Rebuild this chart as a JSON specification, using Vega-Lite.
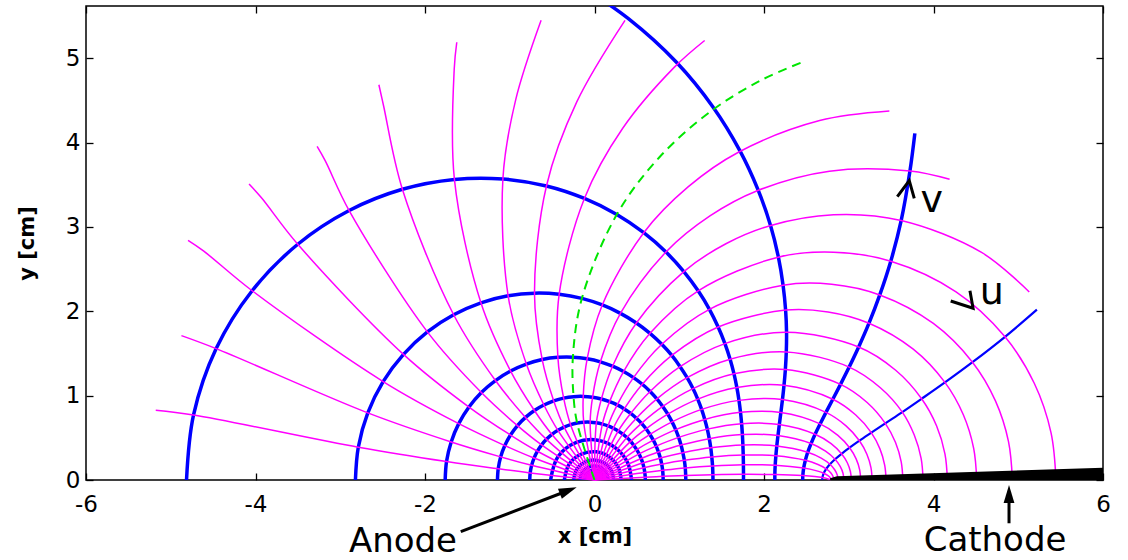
{
  "$schema": "https://vega.github.io/schema/vega-lite/v6.json",
  "width": 1017,
  "height": 474,
  "autosize": {"type": "none"},
  "padding": {"left": 86, "top": 6, "right": 25, "bottom": 80},
  "background": "white",
  "config": {
    "view": {"stroke": "black", "strokeWidth": 1.5},
    "font": "DejaVu Sans",
    "axis": {"labelFont": "DejaVu Sans", "titleFont": "DejaVu Sans", "grid": false, "domain": false, "labelColor": "black", "titleColor": "black", "tickColor": "black", "tickWidth": 1.3}
  },
  "datasets": {
    "eq": [
      {"n":1,"x":2.687,"y":0},{"n":1,"x":2.689,"y":0.029},{"n":1,"x":2.705,"y":0.080},{"n":1,"x":2.734,"y":0.132},{"n":1,"x":2.778,"y":0.186},{"n":1,"x":2.838,"y":0.246},{"n":1,"x":2.915,"y":0.311},{"n":1,"x":3.010,"y":0.383},{"n":1,"x":3.126,"y":0.466},{"n":1,"x":3.266,"y":0.561},{"n":1,"x":3.431,"y":0.672},{"n":1,"x":3.632,"y":0.805},{"n":1,"x":3.860,"y":0.963},{"n":1,"x":4.135,"y":1.157},{"n":1,"x":4.460,"y":1.397},{"n":1,"x":4.844,"y":1.698},{"n":1,"x":5.220,"y":2.020},
      {"n":2,"x":2.457,"y":0},{"n":2,"x":2.458,"y":0.052},{"n":2,"x":2.468,"y":0.141},{"n":2,"x":2.488,"y":0.233},{"n":2,"x":2.516,"y":0.329},{"n":2,"x":2.555,"y":0.432},{"n":2,"x":2.603,"y":0.543},{"n":2,"x":2.662,"y":0.665},{"n":2,"x":2.731,"y":0.802},{"n":2,"x":2.812,"y":0.957},{"n":2,"x":2.903,"y":1.134},{"n":2,"x":3.005,"y":1.339},{"n":2,"x":3.117,"y":1.577},{"n":2,"x":3.239,"y":1.859},{"n":2,"x":3.366,"y":2.194},{"n":2,"x":3.496,"y":2.594},{"n":2,"x":3.619,"y":3.077},{"n":2,"x":3.722,"y":3.663},{"n":2,"x":3.780,"y":4.110},
      {"n":3,"x":2.128,"y":0},{"n":3,"x":2.128,"y":0.064},{"n":3,"x":2.132,"y":0.175},{"n":3,"x":2.140,"y":0.287},{"n":3,"x":2.151,"y":0.404},{"n":3,"x":2.165,"y":0.527},{"n":3,"x":2.181,"y":0.659},{"n":3,"x":2.199,"y":0.800},{"n":3,"x":2.218,"y":0.954},{"n":3,"x":2.236,"y":1.123},{"n":3,"x":2.252,"y":1.310},{"n":3,"x":2.263,"y":1.519},{"n":3,"x":2.266,"y":1.752},{"n":3,"x":2.255,"y":2.015},{"n":3,"x":2.225,"y":2.310},{"n":3,"x":2.170,"y":2.642},{"n":3,"x":2.078,"y":3.015},{"n":3,"x":1.930,"y":3.440},{"n":3,"x":1.715,"y":3.905},{"n":3,"x":1.400,"y":4.420},{"n":3,"x":0.970,"y":4.950},{"n":3,"x":0.400,"y":5.470},{"n":3,"x":-0.300,"y":5.950},
      {"n":4,"x":1.758,"y":0},{"n":4,"x":1.758,"y":0.067},{"n":4,"x":1.757,"y":0.181},{"n":4,"x":1.755,"y":0.296},{"n":4,"x":1.751,"y":0.415},{"n":4,"x":1.745,"y":0.538},{"n":4,"x":1.736,"y":0.667},{"n":4,"x":1.723,"y":0.802},{"n":4,"x":1.705,"y":0.944},{"n":4,"x":1.680,"y":1.096},{"n":4,"x":1.646,"y":1.259},{"n":4,"x":1.600,"y":1.432},{"n":4,"x":1.539,"y":1.617},{"n":4,"x":1.459,"y":1.814},{"n":4,"x":1.356,"y":2.024},{"n":4,"x":1.223,"y":2.243},{"n":4,"x":1.054,"y":2.471},{"n":4,"x":0.843,"y":2.703},{"n":4,"x":0.581,"y":2.932},{"n":4,"x":0.263,"y":3.148},{"n":4,"x":-0.119,"y":3.338},{"n":4,"x":-0.567,"y":3.486},{"n":4,"x":-1.081,"y":3.569},{"n":4,"x":-1.653,"y":3.564},{"n":4,"x":-2.267,"y":3.447},{"n":4,"x":-2.895,"y":3.195},{"n":4,"x":-3.501,"y":2.795},{"n":4,"x":-4.040,"y":2.244},{"n":4,"x":-4.464,"y":1.558},{"n":4,"x":-4.731,"y":0.771},{"n":4,"x":-4.814,"y":0},
      {"n":5,"x":1.398,"y":0},{"n":5,"x":1.397,"y":0.062},{"n":5,"x":1.393,"y":0.167},{"n":5,"x":1.384,"y":0.273},{"n":5,"x":1.372,"y":0.381},{"n":5,"x":1.354,"y":0.490},{"n":5,"x":1.331,"y":0.603},{"n":5,"x":1.301,"y":0.718},{"n":5,"x":1.264,"y":0.837},{"n":5,"x":1.218,"y":0.959},{"n":5,"x":1.162,"y":1.084},{"n":5,"x":1.093,"y":1.213},{"n":5,"x":1.010,"y":1.344},{"n":5,"x":0.912,"y":1.477},{"n":5,"x":0.794,"y":1.609},{"n":5,"x":0.655,"y":1.739},{"n":5,"x":0.494,"y":1.862},{"n":5,"x":0.306,"y":1.976},{"n":5,"x":0.092,"y":2.075},{"n":5,"x":-0.149,"y":2.153},{"n":5,"x":-0.417,"y":2.202},{"n":5,"x":-0.708,"y":2.215},{"n":5,"x":-1.019,"y":2.184},{"n":5,"x":-1.340,"y":2.101},{"n":5,"x":-1.662,"y":1.959},{"n":5,"x":-1.972,"y":1.756},{"n":5,"x":-2.254,"y":1.490},{"n":5,"x":-2.494,"y":1.167},{"n":5,"x":-2.675,"y":0.796},{"n":5,"x":-2.787,"y":0.389},{"n":5,"x":-2.821,"y":0},
      {"n":6,"x":1.077,"y":0},{"n":6,"x":1.076,"y":0.053},{"n":6,"x":1.071,"y":0.143},{"n":6,"x":1.060,"y":0.233},{"n":6,"x":1.043,"y":0.323},{"n":6,"x":1.021,"y":0.414},{"n":6,"x":0.993,"y":0.505},{"n":6,"x":0.958,"y":0.597},{"n":6,"x":0.915,"y":0.689},{"n":6,"x":0.865,"y":0.781},{"n":6,"x":0.805,"y":0.872},{"n":6,"x":0.736,"y":0.962},{"n":6,"x":0.656,"y":1.050},{"n":6,"x":0.564,"y":1.135},{"n":6,"x":0.460,"y":1.214},{"n":6,"x":0.343,"y":1.286},{"n":6,"x":0.213,"y":1.349},{"n":6,"x":0.069,"y":1.401},{"n":6,"x":-0.087,"y":1.437},{"n":6,"x":-0.255,"y":1.456},{"n":6,"x":-0.432,"y":1.454},{"n":6,"x":-0.617,"y":1.428},{"n":6,"x":-0.804,"y":1.374},{"n":6,"x":-0.990,"y":1.292},{"n":6,"x":-1.169,"y":1.179},{"n":6,"x":-1.335,"y":1.037},{"n":6,"x":-1.481,"y":0.865},{"n":6,"x":-1.602,"y":0.668},{"n":6,"x":-1.691,"y":0.451},{"n":6,"x":-1.746,"y":0.219},{"n":6,"x":-1.762,"y":0},
      {"n":7,"x":0.810,"y":0},{"n":7,"x":0.809,"y":0.043},{"n":7,"x":0.804,"y":0.115},{"n":7,"x":0.793,"y":0.188},{"n":7,"x":0.777,"y":0.260},{"n":7,"x":0.755,"y":0.331},{"n":7,"x":0.728,"y":0.402},{"n":7,"x":0.694,"y":0.472},{"n":7,"x":0.654,"y":0.540},{"n":7,"x":0.608,"y":0.607},{"n":7,"x":0.555,"y":0.672},{"n":7,"x":0.494,"y":0.733},{"n":7,"x":0.427,"y":0.790},{"n":7,"x":0.351,"y":0.843},{"n":7,"x":0.268,"y":0.890},{"n":7,"x":0.178,"y":0.929},{"n":7,"x":0.081,"y":0.960},{"n":7,"x":-0.023,"y":0.981},{"n":7,"x":-0.133,"y":0.991},{"n":7,"x":-0.247,"y":0.988},{"n":7,"x":-0.364,"y":0.971},{"n":7,"x":-0.481,"y":0.938},{"n":7,"x":-0.597,"y":0.889},{"n":7,"x":-0.709,"y":0.824},{"n":7,"x":-0.814,"y":0.742},{"n":7,"x":-0.909,"y":0.645},{"n":7,"x":-0.991,"y":0.533},{"n":7,"x":-1.058,"y":0.408},{"n":7,"x":-1.107,"y":0.274},{"n":7,"x":-1.136,"y":0.133},{"n":7,"x":-1.145,"y":0},
      {"n":8,"x":0.599,"y":0},{"n":8,"x":0.599,"y":0.033},{"n":8,"x":0.593,"y":0.090},{"n":8,"x":0.583,"y":0.146},{"n":8,"x":0.569,"y":0.201},{"n":8,"x":0.550,"y":0.255},{"n":8,"x":0.526,"y":0.309},{"n":8,"x":0.498,"y":0.360},{"n":8,"x":0.464,"y":0.410},{"n":8,"x":0.426,"y":0.458},{"n":8,"x":0.382,"y":0.503},{"n":8,"x":0.334,"y":0.544},{"n":8,"x":0.280,"y":0.581},{"n":8,"x":0.222,"y":0.614},{"n":8,"x":0.160,"y":0.642},{"n":8,"x":0.093,"y":0.663},{"n":8,"x":0.022,"y":0.678},{"n":8,"x":-0.051,"y":0.686},{"n":8,"x":-0.127,"y":0.685},{"n":8,"x":-0.205,"y":0.675},{"n":8,"x":-0.282,"y":0.656},{"n":8,"x":-0.358,"y":0.627},{"n":8,"x":-0.432,"y":0.589},{"n":8,"x":-0.502,"y":0.540},{"n":8,"x":-0.567,"y":0.482},{"n":8,"x":-0.624,"y":0.416},{"n":8,"x":-0.673,"y":0.341},{"n":8,"x":-0.713,"y":0.260},{"n":8,"x":-0.742,"y":0.174},{"n":8,"x":-0.759,"y":0.084},{"n":8,"x":-0.764,"y":0},
      {"n":9,"x":0.437,"y":0},{"n":9,"x":0.391,"y":0.205},{"n":9,"x":0.255,"y":0.376},{"n":9,"x":0.041,"y":0.472},{"n":9,"x":-0.214,"y":0.446},{"n":9,"x":-0.432,"y":0.275},{"n":9,"x":-0.518,"y":0},
      {"n":10,"x":0.315,"y":0},{"n":10,"x":0.280,"y":0.151},{"n":10,"x":0.177,"y":0.272},{"n":10,"x":0.020,"y":0.334},{"n":10,"x":-0.156,"y":0.307},{"n":10,"x":-0.300,"y":0.186},{"n":10,"x":-0.356,"y":0},
      {"n":11,"x":0.226,"y":0},{"n":11,"x":0.199,"y":0.110},{"n":11,"x":0.123,"y":0.196},{"n":11,"x":0.010,"y":0.235},{"n":11,"x":-0.113,"y":0.213},{"n":11,"x":-0.209,"y":0.127},{"n":11,"x":-0.246,"y":0},
      {"n":12,"x":0.161,"y":0},{"n":12,"x":0.141,"y":0.079},{"n":12,"x":0.086,"y":0.140},{"n":12,"x":0.005,"y":0.166},{"n":12,"x":-0.081,"y":0.148},{"n":12,"x":-0.146,"y":0.088},{"n":12,"x":-0.171,"y":0},
      {"n":13,"x":0.115,"y":0},{"n":13,"x":0.100,"y":0.056},{"n":13,"x":0.060,"y":0.099},{"n":13,"x":0.003,"y":0.117},{"n":13,"x":-0.057,"y":0.104},{"n":13,"x":-0.103,"y":0.061},{"n":13,"x":-0.120,"y":0},
      {"n":14,"x":0.081,"y":0},{"n":14,"x":0.071,"y":0.041},{"n":14,"x":0.042,"y":0.071},{"n":14,"x":0.001,"y":0.083},{"n":14,"x":-0.041,"y":0.072},{"n":14,"x":-0.072,"y":0.042},{"n":14,"x":-0.084,"y":0}
    ],
    "fl": [
      {"j":0,"x":0,"y":0},{"j":0,"x":0.599,"y":0.033},{"j":0,"x":0.809,"y":0.043},{"j":0,"x":1.076,"y":0.053},{"j":0,"x":1.397,"y":0.062},{"j":0,"x":1.758,"y":0.067},{"j":0,"x":2.128,"y":0.064},{"j":0,"x":2.458,"y":0.052},{"j":0,"x":2.599,"y":0.041},{"j":0,"x":2.689,"y":0.029},{"j":0,"x":2.738,"y":0.019},{"j":0,"x":2.765,"y":0.009},{"j":0,"x":2.773,"y":0},
      {"j":1,"x":0,"y":0},{"j":1,"x":0.593,"y":0.090},{"j":1,"x":0.804,"y":0.115},{"j":1,"x":1.071,"y":0.143},{"j":1,"x":1.393,"y":0.167},{"j":1,"x":1.757,"y":0.181},{"j":1,"x":2.132,"y":0.175},{"j":1,"x":2.468,"y":0.141},{"j":1,"x":2.612,"y":0.111},{"j":1,"x":2.705,"y":0.080},{"j":1,"x":2.755,"y":0.052},{"j":1,"x":2.782,"y":0.025},{"j":1,"x":2.790,"y":0},
      {"j":2,"x":0,"y":0},{"j":2,"x":0.583,"y":0.146},{"j":2,"x":0.793,"y":0.188},{"j":2,"x":1.060,"y":0.233},{"j":2,"x":1.384,"y":0.273},{"j":2,"x":1.755,"y":0.296},{"j":2,"x":2.140,"y":0.287},{"j":2,"x":2.488,"y":0.233},{"j":2,"x":2.637,"y":0.183},{"j":2,"x":2.734,"y":0.132},{"j":2,"x":2.787,"y":0.086},{"j":2,"x":2.815,"y":0.041},{"j":2,"x":2.823,"y":0},
      {"j":3,"x":0,"y":0},{"j":3,"x":0.569,"y":0.201},{"j":3,"x":0.777,"y":0.260},{"j":3,"x":1.043,"y":0.323},{"j":3,"x":1.372,"y":0.381},{"j":3,"x":1.751,"y":0.415},{"j":3,"x":2.151,"y":0.404},{"j":3,"x":2.516,"y":0.329},{"j":3,"x":2.675,"y":0.259},{"j":3,"x":2.778,"y":0.186},{"j":3,"x":2.834,"y":0.122},{"j":3,"x":2.865,"y":0.058},{"j":3,"x":2.874,"y":0},
      {"j":4,"x":0,"y":0},{"j":4,"x":0.550,"y":0.255},{"j":4,"x":0.755,"y":0.331},{"j":4,"x":1.021,"y":0.414},{"j":4,"x":1.354,"y":0.490},{"j":4,"x":1.745,"y":0.538},{"j":4,"x":2.165,"y":0.527},{"j":4,"x":2.555,"y":0.432},{"j":4,"x":2.726,"y":0.341},{"j":4,"x":2.838,"y":0.246},{"j":4,"x":2.899,"y":0.161},{"j":4,"x":2.933,"y":0.077},{"j":4,"x":2.942,"y":0},
      {"j":5,"x":0,"y":0},{"j":5,"x":0.526,"y":0.309},{"j":5,"x":0.728,"y":0.402},{"j":5,"x":0.993,"y":0.505},{"j":5,"x":1.331,"y":0.603},{"j":5,"x":1.736,"y":0.667},{"j":5,"x":2.181,"y":0.659},{"j":5,"x":2.603,"y":0.543},{"j":5,"x":2.792,"y":0.431},{"j":5,"x":2.915,"y":0.311},{"j":5,"x":2.983,"y":0.204},{"j":5,"x":3.020,"y":0.098},{"j":5,"x":3.031,"y":0},
      {"j":6,"x":0,"y":0},{"j":6,"x":0.498,"y":0.360},{"j":6,"x":0.694,"y":0.472},{"j":6,"x":0.958,"y":0.597},{"j":6,"x":1.301,"y":0.718},{"j":6,"x":1.723,"y":0.802},{"j":6,"x":2.199,"y":0.800},{"j":6,"x":2.662,"y":0.665},{"j":6,"x":2.872,"y":0.530},{"j":6,"x":3.010,"y":0.383},{"j":6,"x":3.087,"y":0.251},{"j":6,"x":3.129,"y":0.121},{"j":6,"x":3.141,"y":0},
      {"j":7,"x":0,"y":0},{"j":7,"x":0.464,"y":0.410},{"j":7,"x":0.654,"y":0.540},{"j":7,"x":0.915,"y":0.689},{"j":7,"x":1.264,"y":0.837},{"j":7,"x":1.705,"y":0.944},{"j":7,"x":2.218,"y":0.954},{"j":7,"x":2.731,"y":0.802},{"j":7,"x":2.968,"y":0.642},{"j":7,"x":3.126,"y":0.466},{"j":7,"x":3.214,"y":0.306},{"j":7,"x":3.262,"y":0.147},{"j":7,"x":3.276,"y":0},
      {"j":8,"x":0,"y":0},{"j":8,"x":0.426,"y":0.458},{"j":8,"x":0.608,"y":0.607},{"j":8,"x":0.865,"y":0.781},{"j":8,"x":1.218,"y":0.959},{"j":8,"x":1.680,"y":1.096},{"j":8,"x":2.236,"y":1.123},{"j":8,"x":2.812,"y":0.957},{"j":8,"x":3.083,"y":0.770},{"j":8,"x":3.266,"y":0.561},{"j":8,"x":3.368,"y":0.369},{"j":8,"x":3.424,"y":0.177},{"j":8,"x":3.441,"y":0},
      {"j":9,"x":0,"y":0},{"j":9,"x":0.382,"y":0.503},{"j":9,"x":0.555,"y":0.672},{"j":9,"x":0.805,"y":0.872},{"j":9,"x":1.162,"y":1.084},{"j":9,"x":1.646,"y":1.259},{"j":9,"x":2.252,"y":1.310},{"j":9,"x":2.903,"y":1.134},{"j":9,"x":3.217,"y":0.919},{"j":9,"x":3.431,"y":0.672},{"j":9,"x":3.552,"y":0.444},{"j":9,"x":3.619,"y":0.214},{"j":9,"x":3.639,"y":0},
      {"j":10,"x":0,"y":0},{"j":10,"x":0.334,"y":0.544},{"j":10,"x":0.494,"y":0.733},{"j":10,"x":0.736,"y":0.962},{"j":10,"x":1.093,"y":1.213},{"j":10,"x":1.600,"y":1.432},{"j":10,"x":2.263,"y":1.519},{"j":10,"x":3.005,"y":1.339},{"j":10,"x":3.373,"y":1.094},{"j":10,"x":3.632,"y":0.805},{"j":10,"x":3.773,"y":0.533},{"j":10,"x":3.854,"y":0.257},{"j":10,"x":3.877,"y":0},
      {"j":11,"x":0,"y":0},{"j":11,"x":0.280,"y":0.581},{"j":11,"x":0.427,"y":0.790},{"j":11,"x":0.656,"y":1.050},{"j":11,"x":1.010,"y":1.344},{"j":11,"x":1.539,"y":1.617},{"j":11,"x":2.266,"y":1.752},{"j":11,"x":3.117,"y":1.577},{"j":11,"x":3.554,"y":1.301},{"j":11,"x":3.860,"y":0.963},{"j":11,"x":4.037,"y":0.640},{"j":11,"x":4.135,"y":0.309},{"j":11,"x":4.164,"y":0},
      {"j":12,"x":0,"y":0},{"j":12,"x":0.222,"y":0.614},{"j":12,"x":0.351,"y":0.843},{"j":12,"x":0.564,"y":1.135},{"j":12,"x":0.912,"y":1.477},{"j":12,"x":1.459,"y":1.814},{"j":12,"x":2.255,"y":2.015},{"j":12,"x":2.756,"y":1.993},{"j":12,"x":3.239,"y":1.859},{"j":12,"x":3.761,"y":1.551},{"j":12,"x":4.135,"y":1.157},{"j":12,"x":4.352,"y":0.773},{"j":12,"x":4.474,"y":0.374},{"j":12,"x":4.510,"y":0},
      {"j":13,"x":0,"y":0},{"j":13,"x":0.160,"y":0.642},{"j":13,"x":0.268,"y":0.890},{"j":13,"x":0.460,"y":1.214},{"j":13,"x":0.794,"y":1.609},{"j":13,"x":1.356,"y":2.024},{"j":13,"x":2.225,"y":2.310},{"j":13,"x":2.798,"y":2.321},{"j":13,"x":3.366,"y":2.194},{"j":13,"x":3.998,"y":1.856},{"j":13,"x":4.460,"y":1.397},{"j":13,"x":4.731,"y":0.938},{"j":13,"x":4.885,"y":0.455},{"j":13,"x":4.931,"y":0},
      {"j":14,"x":0,"y":0},{"j":14,"x":0.093,"y":0.663},{"j":14,"x":0.178,"y":0.929},{"j":14,"x":0.343,"y":1.286},{"j":14,"x":0.655,"y":1.739},{"j":14,"x":1.223,"y":2.243},{"j":14,"x":2.167,"y":2.642},{"j":14,"x":2.823,"y":2.701},{"j":14,"x":3.496,"y":2.594},{"j":14,"x":4.266,"y":2.231},{"j":14,"x":4.844,"y":1.698},{"j":14,"x":5.189,"y":1.147},{"j":14,"x":5.387,"y":0.559},{"j":14,"x":5.445,"y":0},
      {"j":15,"x":0,"y":0},{"j":15,"x":0.022,"y":0.678},{"j":15,"x":0.081,"y":0.960},{"j":15,"x":0.213,"y":1.349},{"j":15,"x":0.494,"y":1.862},{"j":15,"x":1.054,"y":2.471},{"j":15,"x":1.556,"y":2.804},{"j":15,"x":2.070,"y":3.015},{"j":15,"x":2.820,"y":3.145},{"j":15,"x":3.619,"y":3.077},{"j":15,"x":4.567,"y":2.698},{"j":15,"x":5.130,"y":2.230},
      {"j":16,"x":0,"y":0},{"j":16,"x":-0.051,"y":0.686},{"j":16,"x":-0.023,"y":0.981},{"j":16,"x":0.069,"y":1.401},{"j":16,"x":0.306,"y":1.976},{"j":16,"x":0.843,"y":2.703},{"j":16,"x":1.362,"y":3.131},{"j":16,"x":1.920,"y":3.430},{"j":16,"x":2.772,"y":3.662},{"j":16,"x":3.722,"y":3.663},{"j":16,"x":4.190,"y":3.565},
      {"j":17,"x":0,"y":0},{"j":17,"x":-0.127,"y":0.685},{"j":17,"x":-0.133,"y":0.991},{"j":17,"x":-0.087,"y":1.437},{"j":17,"x":0.092,"y":2.075},{"j":17,"x":0.581,"y":2.932},{"j":17,"x":1.104,"y":3.475},{"j":17,"x":1.698,"y":3.886},{"j":17,"x":2.657,"y":4.262},{"j":17,"x":3.479,"y":4.375},
      {"j":18,"x":0,"y":0},{"j":18,"x":-0.205,"y":0.675},{"j":18,"x":-0.247,"y":0.988},{"j":18,"x":-0.255,"y":1.456},{"j":18,"x":-0.149,"y":2.153},{"j":18,"x":0.263,"y":3.148},{"j":18,"x":0.766,"y":3.827},{"j":18,"x":1.381,"y":4.378},{"j":18,"x":1.964,"y":4.739},{"j":18,"x":2.475,"y":4.964},
      {"j":19,"x":0,"y":0},{"j":19,"x":-0.282,"y":0.656},{"j":19,"x":-0.364,"y":0.971},{"j":19,"x":-0.432,"y":1.454},{"j":19,"x":-0.417,"y":2.202},{"j":19,"x":-0.119,"y":3.338},{"j":19,"x":0.333,"y":4.170},{"j":19,"x":0.943,"y":4.895},{"j":19,"x":1.300,"y":5.211},
      {"j":20,"x":0,"y":0},{"j":20,"x":-0.358,"y":0.627},{"j":20,"x":-0.481,"y":0.938},{"j":20,"x":-0.617,"y":1.428},{"j":20,"x":-0.708,"y":2.215},{"j":20,"x":-0.567,"y":3.486},{"j":20,"x":-0.209,"y":4.483},{"j":20,"x":0.360,"y":5.450},
      {"j":21,"x":0,"y":0},{"j":21,"x":-0.432,"y":0.589},{"j":21,"x":-0.597,"y":0.889},{"j":21,"x":-0.804,"y":1.374},{"j":21,"x":-1.019,"y":2.184},{"j":21,"x":-1.081,"y":3.569},{"j":21,"x":-0.930,"y":4.507},{"j":21,"x":-0.630,"y":5.450},
      {"j":22,"x":0,"y":0},{"j":22,"x":-0.502,"y":0.540},{"j":22,"x":-0.709,"y":0.824},{"j":22,"x":-0.990,"y":1.292},{"j":22,"x":-1.340,"y":2.101},{"j":22,"x":-1.653,"y":3.564},{"j":22,"x":-1.655,"y":4.876},{"j":22,"x":-1.625,"y":5.190},
      {"j":23,"x":0,"y":0},{"j":23,"x":-0.567,"y":0.482},{"j":23,"x":-0.814,"y":0.742},{"j":23,"x":-1.169,"y":1.179},{"j":23,"x":-1.662,"y":1.959},{"j":23,"x":-2.267,"y":3.447},{"j":23,"x":-2.489,"y":4.437},{"j":23,"x":-2.544,"y":4.686},
      {"j":24,"x":0,"y":0},{"j":24,"x":-0.624,"y":0.416},{"j":24,"x":-0.909,"y":0.645},{"j":24,"x":-1.335,"y":1.037},{"j":24,"x":-1.972,"y":1.756},{"j":24,"x":-2.895,"y":3.195},{"j":24,"x":-3.178,"y":3.786},{"j":24,"x":-3.273,"y":3.955},
      {"j":25,"x":0,"y":0},{"j":25,"x":-0.673,"y":0.341},{"j":25,"x":-0.991,"y":0.533},{"j":25,"x":-1.481,"y":0.865},{"j":25,"x":-2.254,"y":1.490},{"j":25,"x":-3.501,"y":2.795},{"j":25,"x":-3.932,"y":3.349},{"j":25,"x":-4.076,"y":3.509},
      {"j":26,"x":0,"y":0},{"j":26,"x":-0.713,"y":0.260},{"j":26,"x":-1.058,"y":0.408},{"j":26,"x":-1.602,"y":0.668},{"j":26,"x":-2.494,"y":1.167},{"j":26,"x":-4.040,"y":2.244},{"j":26,"x":-4.614,"y":2.716},{"j":26,"x":-4.796,"y":2.841},
      {"j":27,"x":0,"y":0},{"j":27,"x":-0.742,"y":0.174},{"j":27,"x":-1.107,"y":0.274},{"j":27,"x":-1.691,"y":0.451},{"j":27,"x":-2.675,"y":0.796},{"j":27,"x":-4.464,"y":1.558},{"j":27,"x":-4.874,"y":1.712},
      {"j":28,"x":0,"y":0},{"j":28,"x":-0.759,"y":0.084},{"j":28,"x":-1.136,"y":0.133},{"j":28,"x":-1.746,"y":0.219},{"j":28,"x":-2.787,"y":0.389},{"j":28,"x":-4.731,"y":0.771},{"j":28,"x":-5.177,"y":0.827}
    ],
    "arr": [
      {"id":"a","x":-1.578,"y":-0.613},{"id":"a","x":-0.309,"y":-0.1245},
      {"id":"c","x":4.891,"y":-0.513},{"id":"c","x":4.891,"y":-0.166},
      {"id":"v","x":3.573,"y":3.359},{"id":"v","x":3.714,"y":3.549},{"id":"v","x":3.773,"y":3.340},
      {"id":"u","x":4.203,"y":2.122},{"id":"u","x":4.467,"y":2.036},{"id":"u","x":4.430,"y":2.245}
    ],
    "wedge": [{"x":2.78,"y":0.02},{"x":2.86,"y":0.045},{"x":6,"y":0.145}],
    "big": [{"t":"Anode","x":-2.26,"y":-0.85},{"t":"Cathode","x":4.726,"y":-0.84}],
    "small": [{"t":"v","x":3.979,"y":3.310},{"t":"u","x":4.687,"y":2.223}]
  },
  "layer": [
    {
      "data": {"name": "eq"},
      "transform": [{"filter": "datum.n >= 2"}],
      "mark": {"type": "line", "color": "#0000ff", "strokeWidth": 3.5, "interpolate": "catmull-rom", "clip": true},
      "encoding": {
        "x": {"field": "x", "type": "quantitative", "scale": {"domain": [-6, 6], "nice": false, "zero": false},
          "axis": {"orient": "bottom", "values": [-6, -4, -2, 0, 2, 4, 6], "labelExpr": "'' + datum.value", "labelFontSize": 23, "labelPadding": 20, "tickSize": -7, "labelFlush": false, "labelOverlap": false, "labelBound": false, "title": "x [cm]", "titleFontSize": 21, "titleFontWeight": "bold", "titlePadding": 9}},
        "y": {"field": "y", "type": "quantitative", "scale": {"domain": [0, 5.62], "nice": false, "zero": false},
          "axis": {"orient": "left", "values": [0, 1, 2, 3, 4, 5], "labelFontSize": 23, "labelPadding": 13, "tickSize": -7, "labelFlush": false, "labelOverlap": false, "labelBound": false, "title": "y [cm]", "titleFontSize": 21, "titleFontWeight": "bold", "titlePadding": 28}},
        "detail": {"field": "n", "type": "nominal"},
        "order": {"value": null}
      }
    },
    {
      "data": {"name": "eq"},
      "transform": [{"filter": "datum.n == 1"}],
      "mark": {"type": "line", "color": "#0000ff", "strokeWidth": 2.2, "interpolate": "catmull-rom", "clip": true},
      "encoding": {
        "x": {"field": "x", "type": "quantitative", "scale": {"domain": [-6, 6], "nice": false, "zero": false}, "axis": null},
        "y": {"field": "y", "type": "quantitative", "scale": {"domain": [0, 5.62], "nice": false, "zero": false}, "axis": null},
        "detail": {"field": "n", "type": "nominal"},
        "order": {"value": null}
      }
    },
    {
      "data": {"name": "fl"},
      "transform": [{"filter": "datum.j != 18"}],
      "mark": {"type": "line", "color": "#ff00ff", "strokeWidth": 1.5, "interpolate": "catmull-rom"},
      "encoding": {
        "x": {"field": "x", "type": "quantitative", "scale": {"domain": [-6, 6], "nice": false, "zero": false}, "axis": null},
        "y": {"field": "y", "type": "quantitative", "scale": {"domain": [0, 5.62], "nice": false, "zero": false}, "axis": null},
        "detail": {"field": "j", "type": "nominal"},
        "order": {"value": null}
      }
    },
    {
      "data": {"name": "fl"},
      "transform": [{"filter": "datum.j == 18"}],
      "mark": {"type": "line", "color": "#00e600", "strokeWidth": 2, "strokeDash": [9, 6], "interpolate": "catmull-rom"},
      "encoding": {
        "x": {"field": "x", "type": "quantitative", "scale": {"domain": [-6, 6], "nice": false, "zero": false}, "axis": null},
        "y": {"field": "y", "type": "quantitative", "scale": {"domain": [0, 5.62], "nice": false, "zero": false}, "axis": null},
        "detail": {"field": "j", "type": "nominal"},
        "order": {"value": null}
      }
    },
    {
      "data": {"name": "arr"},
      "mark": {"type": "line", "color": "black", "strokeWidth": 3},
      "encoding": {
        "x": {"field": "x", "type": "quantitative", "scale": {"domain": [-6, 6], "nice": false, "zero": false}, "axis": null},
        "y": {"field": "y", "type": "quantitative", "scale": {"domain": [0, 5.62], "nice": false, "zero": false}, "axis": null},
        "detail": {"field": "id", "type": "nominal"},
        "order": {"value": null}
      }
    },
    {
      "data": {"values": [{"x": -0.309, "y": -0.1245}]},
      "mark": {"type": "point", "shape": "M0,-1L0.6,1L-0.6,1Z", "size": 324, "filled": true, "color": "black", "opacity": 1, "angle": 69},
      "encoding": {
        "x": {"field": "x", "type": "quantitative", "scale": {"domain": [-6, 6], "nice": false, "zero": false}, "axis": null},
        "y": {"field": "y", "type": "quantitative", "scale": {"domain": [0, 5.62], "nice": false, "zero": false}, "axis": null}
      }
    },
    {
      "data": {"values": [{"x": 4.891, "y": -0.166}]},
      "mark": {"type": "point", "shape": "M0,-1L0.6,1L-0.6,1Z", "size": 324, "filled": true, "color": "black", "opacity": 1, "angle": 0},
      "encoding": {
        "x": {"field": "x", "type": "quantitative", "scale": {"domain": [-6, 6], "nice": false, "zero": false}, "axis": null},
        "y": {"field": "y", "type": "quantitative", "scale": {"domain": [0, 5.62], "nice": false, "zero": false}, "axis": null}
      }
    },
    {
      "data": {"name": "big"},
      "mark": {"type": "text", "fontSize": 34, "font": "DejaVu Sans", "baseline": "alphabetic", "align": "center", "color": "black"},
      "encoding": {
        "x": {"field": "x", "type": "quantitative", "scale": {"domain": [-6, 6], "nice": false, "zero": false}, "axis": null},
        "y": {"field": "y", "type": "quantitative", "scale": {"domain": [0, 5.62], "nice": false, "zero": false}, "axis": null},
        "text": {"field": "t"}
      }
    },
    {
      "data": {"name": "small"},
      "mark": {"type": "text", "fontSize": 38, "font": "DejaVu Sans", "baseline": "middle", "align": "center", "color": "black"},
      "encoding": {
        "x": {"field": "x", "type": "quantitative", "scale": {"domain": [-6, 6], "nice": false, "zero": false}, "axis": null},
        "y": {"field": "y", "type": "quantitative", "scale": {"domain": [0, 5.62], "nice": false, "zero": false}, "axis": null},
        "text": {"field": "t"}
      }
    },
    {
      "data": {"name": "wedge"},
      "mark": {"type": "area", "color": "black", "opacity": 1},
      "encoding": {
        "x": {"field": "x", "type": "quantitative", "scale": {"domain": [-6, 6], "nice": false, "zero": false},
          "axis": {"orient": "top", "values": [-6, -4, -2, 0, 2, 4, 6], "labels": false, "title": null, "tickSize": -7}},
        "y": {"field": "y", "type": "quantitative", "scale": {"domain": [0, 5.62], "nice": false, "zero": false},
          "axis": {"orient": "right", "values": [0, 1, 2, 3, 4, 5], "labels": false, "title": null, "tickSize": -7}},
        "y2": {"datum": 0}
      }
    }
  ],
  "resolve": {"axis": {"x": "independent", "y": "independent"}}
}
